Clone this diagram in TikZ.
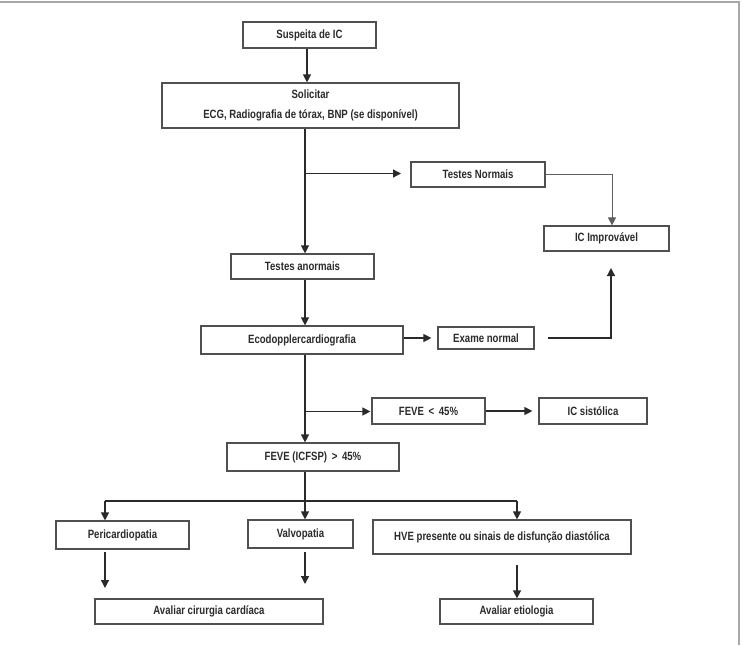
\documentclass[tikz,border=0pt]{standalone}
\usepackage{fontspec}
\setmainfont{Liberation Sans}[FakeStretch=0.8]
\usetikzlibrary{arrows.meta,calc}
\definecolor{frame}{HTML}{A8A8A8}
\definecolor{ink}{HTML}{2A2A2A}
\definecolor{boxline}{HTML}{505050}
\begin{document}
\begin{tikzpicture}[x=1pt,y=-1pt,
  box/.style={draw=boxline,line width=1.2pt,inner sep=0pt,align=center,
    font=\fontsize{12}{20}\selectfont\bfseries,text=ink},
  arr/.style={draw=ink,line width=1.3pt,-{Triangle[length=8pt,width=8pt]}},
  ln/.style={draw=ink,line width=1.3pt},
  thinln/.style={draw=ink!75,line width=1pt}]
\useasboundingbox (0,0) rectangle (743,645);
\draw[frame,line width=2pt] (0,2) -- (739,2) -- (739,645);
% nodes
\node[box,minimum width=133pt,minimum height=26pt] (sus) at (309.5,35) {Suspeita de IC};
\node[box,minimum width=297pt,minimum height=45pt] (sol) at (310.5,105.5) {Solicitar\\ECG, Radiografia de tórax, BNP (se disponível)};
\node[box,minimum width=134pt,minimum height=25pt] (tn) at (478,174.5) {Testes Normais};
\node[box,minimum width=125pt,minimum height=25pt] (ici) at (606.5,238.5) {IC Improvável};
\node[box,minimum width=143pt,minimum height=25pt] (ta) at (302.5,266.5) {Testes anormais};
\node[box,minimum width=202pt,minimum height=28pt] (eco) at (302,340) {Ecodopplercardiografia};
\node[box,minimum width=96pt,minimum height=22pt] (en) at (486,338) {Exame normal};
\node[box,minimum width=113pt,minimum height=26pt] (fl) at (428.5,411) {FEVE \,<\, 45\%};
\node[box,minimum width=108pt,minimum height=26pt] (ics) at (593,411) {IC sistólica};
\node[box,minimum width=172pt,minimum height=28pt] (fg) at (313,457) {FEVE (ICFSP) \,>\, 45\%};
\node[box,minimum width=133pt,minimum height=28pt] (peri) at (122.5,535) {Pericardiopatia};
\node[box,minimum width=105pt,minimum height=28pt] (valv) at (300.5,534) {Valvopatia};
\node[box,minimum width=258pt,minimum height=34pt] (hve) at (502,537) {HVE presente ou sinais de disfunção diastólica};
\node[box,minimum width=228pt,minimum height=25pt] (acc) at (209,611.5) {Avaliar cirurgia cardíaca};
\node[box,minimum width=153pt,minimum height=25pt] (ae) at (516.5,611.5) {Avaliar etiologia};
% helper coordinates
\coordinate (t1) at (307,0);
\coordinate (trunk) at (305,0);
\coordinate (b1) at (305,173.5);
\coordinate (b1end) at (401,173.5);
\coordinate (tnr) at (612,0);
\coordinate (enstart) at (548,338);
\coordinate (encorner) at (611,338);
\coordinate (icitip) at (611,268);
\coordinate (b2) at (305,411.5);
\coordinate (b3) at (305,501);
\coordinate (b3l) at (105,501);
\coordinate (b3r) at (517,501);
\coordinate (pa1) at (105,552);
\coordinate (pa2) at (105,588);
\coordinate (va1) at (305,552);
\coordinate (va2) at (305,584);
\coordinate (ha1) at (517,565);
% connectors
\draw[arr] (sus.south -| t1) -- (sol.north -| t1);
\draw[arr] (sol.south -| trunk) -- (ta.north -| trunk);
\draw[arr] (b1) -- (b1end);
\draw[thinln,-{Triangle[length=8pt,width=8pt]}] (tn.east) -- (tn.east -| tnr) -- (ici.north -| tnr);
\draw[arr] (ta.south -| trunk) -- (eco.north -| trunk);
\draw[arr,shorten >=6pt] (eco.east |- en.west) -- (en.west);
\draw[arr] (enstart) -- (encorner) -- (icitip);
\draw[arr] (eco.south -| trunk) -- (fg.north -| trunk);
\draw[arr,shorten >=1pt] (b2) -- (b2 -| fl.west);
\draw[arr,shorten >=6pt] (fl.east) -- (ics.west);
\draw[ln] (fg.south -| trunk) -- (b3);
\draw[ln] (b3l) -- (b3r);
\draw[arr] (b3l) -- (b3l |- peri.north);
\draw[arr] (b3) -- (b3 |- valv.north);
\draw[arr] (b3r) -- (b3r |- hve.north);
\draw[arr] (pa1) -- (pa2);
\draw[arr] (va1) -- (va2);
\draw[arr] (ha1) -- (ha1 |- ae.north);
\end{tikzpicture}
\end{document}
